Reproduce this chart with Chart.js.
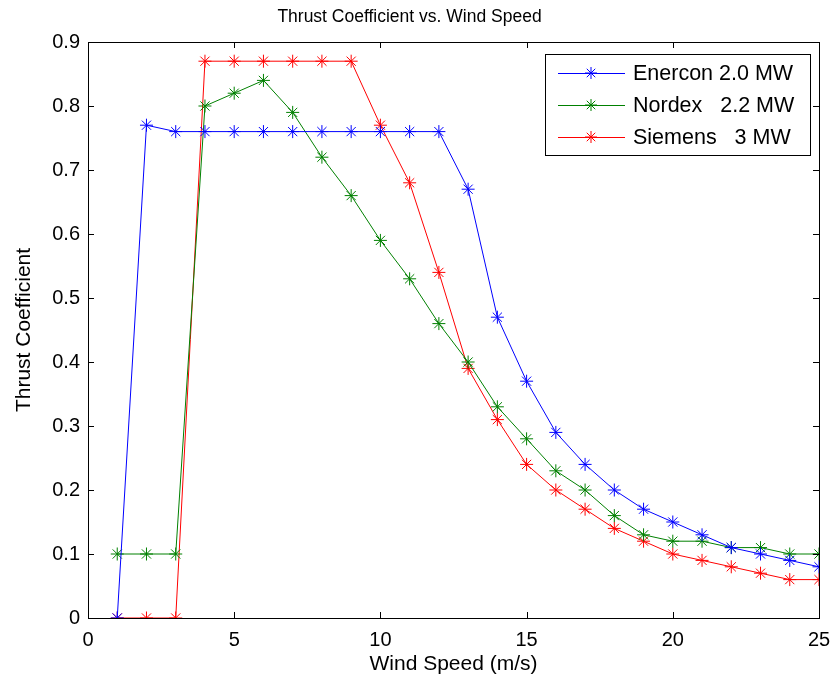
<!DOCTYPE html>
<html>
<head>
<meta charset="utf-8">
<script src="https://cdn.jsdelivr.net/npm/chart.js@4.4.0/dist/chart.umd.min.js"></script>
<style>
  html, body { margin: 0; padding: 0; background: #fff; }
  #wrap { width: 834px; height: 680px; }
</style>
</head>
<body>
<div id="wrap"><canvas id="cht"></canvas></div>
<script>
// wind speed (m/s)
const windSpeed = [1, 2, 3, 4, 5, 6, 7, 8, 9, 10, 11, 12, 13, 14, 15, 16, 17, 18, 19, 20, 21, 22, 23, 24, 25];

// thrust coefficients
const enercon = [0, 0.77, 0.76, 0.76, 0.76, 0.76, 0.76, 0.76, 0.76, 0.76, 0.76, 0.76, 0.67, 0.47, 0.37, 0.29, 0.24, 0.20, 0.17, 0.15, 0.13, 0.11, 0.10, 0.09, 0.08];
const nordex  = [0.10, 0.10, 0.10, 0.80, 0.82, 0.84, 0.79, 0.72, 0.66, 0.59, 0.53, 0.46, 0.40, 0.33, 0.28, 0.23, 0.20, 0.16, 0.13, 0.12, 0.12, 0.11, 0.11, 0.10, 0.10];
const siemens = [0, 0, 0, 0.87, 0.87, 0.87, 0.87, 0.87, 0.87, 0.77, 0.68, 0.54, 0.39, 0.31, 0.24, 0.20, 0.17, 0.14, 0.12, 0.10, 0.09, 0.08, 0.07, 0.06, 0.06];

const seriesNames = ["Enercon 2.0 MW", "Nordex   2.2 MW", "Siemens   3 MW"];
const xTicks = [0, 5, 10, 15, 20, 25];
const yTicks = [0, 0.1, 0.2, 0.3, 0.4, 0.5, 0.6, 0.7, 0.8, 0.9];

const FONT = "'Liberation Sans', Arial, sans-serif";

function pts(ys) {
  return ys.map((y, i) => ({ x: windSpeed[i], y: y }));
}

function serie(label, ys, color) {
  return {
    label: label,
    data: pts(ys),
    borderColor: color,
    backgroundColor: color,
    borderWidth: 1,
    pointStyle: "star",
    pointRadius: 6.5,
    pointBorderWidth: 1,
    pointHoverRadius: 6.5,
    tension: 0,
  };
}

// MATLAB-like box with inward ticks + legend inside the axes
const boxPlugin = {
  id: "matlabBox",
  afterDatasetsDraw(chart) {
    const { ctx, chartArea: a, scales } = chart;
    ctx.save();
    ctx.strokeStyle = "#000";
    ctx.lineWidth = 1;
    const L = 6;
    ctx.beginPath();
    xTicks.forEach(v => {
      const px = Math.round(scales.x.getPixelForValue(v)) + 0.5;
      ctx.moveTo(px, a.bottom); ctx.lineTo(px, a.bottom - L);
      ctx.moveTo(px, a.top); ctx.lineTo(px, a.top + L);
    });
    yTicks.forEach(v => {
      const py = Math.round(scales.y.getPixelForValue(v)) + 0.5;
      ctx.moveTo(a.left, py); ctx.lineTo(a.left + L, py);
      ctx.moveTo(a.right, py); ctx.lineTo(a.right - L, py);
    });
    ctx.stroke();
    ctx.strokeRect(Math.round(a.left) + 0.5, Math.round(a.top) + 0.5,
      Math.round(a.right - a.left), Math.round(a.bottom - a.top));

    // legend
    const bx = 545, by = 54, bw = 265, bh = 101;
    ctx.fillStyle = "#fff";
    ctx.fillRect(bx, by, bw, bh);
    ctx.strokeRect(bx + 0.5, by + 0.5, bw, bh);
    ctx.font = "21.5px " + FONT;
    ctx.textBaseline = "middle";
    chart.data.datasets.forEach((ds, i) => {
      const y = by + 19 + i * 32;
      ctx.strokeStyle = ds.borderColor;
      ctx.beginPath();
      ctx.moveTo(558, y + 0.5); ctx.lineTo(625, y + 0.5);
      ctx.stroke();
      // star marker
      const cx = 591, r = 6;
      ctx.beginPath();
      for (let k = 0; k < 4; k++) {
        const ang = k * Math.PI / 4;
        ctx.moveTo(cx - r * Math.cos(ang), y - r * Math.sin(ang));
        ctx.lineTo(cx + r * Math.cos(ang), y + r * Math.sin(ang));
      }
      ctx.stroke();
      ctx.fillStyle = "#000";
      ctx.fillText(ds.label, 633, y + 1);
    });
    ctx.restore();
  }
};

new Chart(document.getElementById("cht"), {
  type: "line",
  data: {
    datasets: [
      serie(seriesNames[0], enercon, "#0000ff"),
      serie(seriesNames[1], nordex, "#008000"),
      serie(seriesNames[2], siemens, "#ff0000"),
    ],
  },
  options: {
    responsive: true,
    maintainAspectRatio: false,
    animation: false,
    layout: { padding: { left: 0, right: 15, top: 0, bottom: 0 } },
    plugins: {
      legend: { display: false },
      tooltip: { enabled: false },
      title: {
        display: true,
        text: "Thrust Coefficient vs. Wind Speed",
        color: "#000",
        font: { family: FONT, size: 17.5, weight: "normal", lineHeight: 1.2 },
        padding: { top: 6.5, bottom: 14.5 },
      },
    },
    scales: {
      x: {
        type: "linear",
        min: 0,
        max: 25,
        afterFit: s => { s.height = 62; },
        afterBuildTicks: s => { s.ticks = xTicks.map(v => ({ value: v })); },
        grid: { display: false },
        border: { display: false },
        ticks: { color: "#000", font: { family: FONT, size: 20 }, padding: 2, maxRotation: 0 },
        title: {
          display: true,
          text: "Wind Speed (m/s)",
          color: "#000",
          font: { family: FONT, size: 21 },
          padding: { top: 0, bottom: 3 },
        },
      },
      y: {
        type: "linear",
        min: 0,
        max: 0.9,
        afterFit: s => { s.width = 88; },
        afterBuildTicks: s => { s.ticks = yTicks.map(v => ({ value: v })); },
        grid: { display: false },
        border: { display: false },
        ticks: {
          color: "#000",
          font: { family: FONT, size: 20 },
          padding: 0,
          callback: v => String(+v.toFixed(1)),
        },
        title: {
          display: true,
          text: "Thrust Coefficient",
          color: "#000",
          font: { family: FONT, size: 21 },
          padding: { top: 12, bottom: 0 },
        },
      },
    },
  },
  plugins: [boxPlugin],
});
</script>
</body>
</html>
